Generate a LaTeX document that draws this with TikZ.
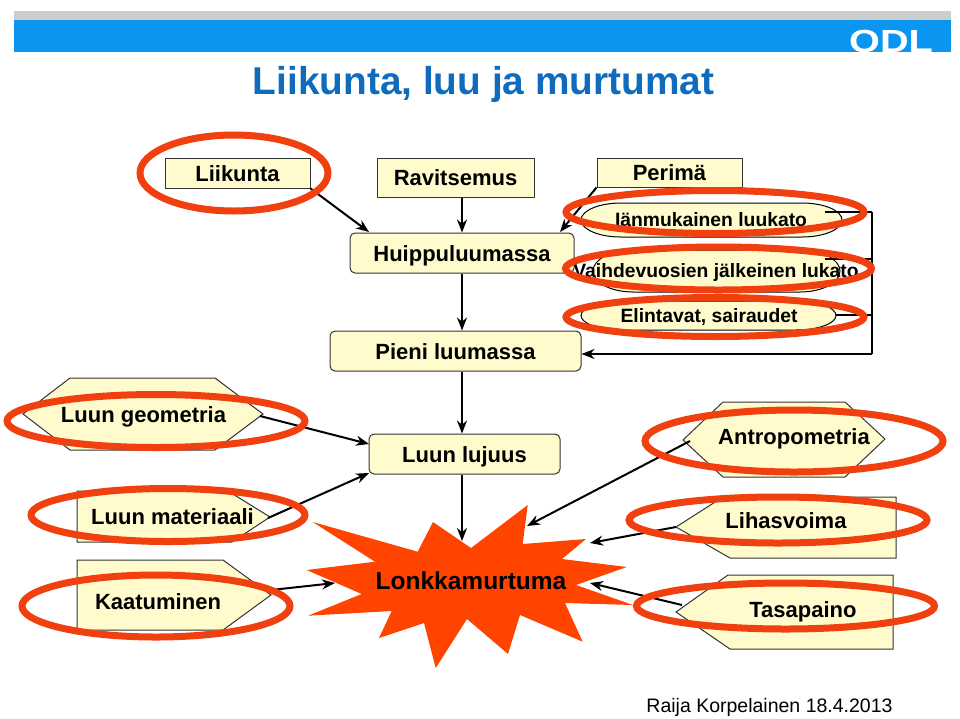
\documentclass[tikz,border=0pt]{standalone}
\usepackage{fontspec}
\setmainfont{Liberation Sans}
\usetikzlibrary{arrows.meta,shapes.geometric}
\definecolor{paleyellow}{HTML}{FFFBCC}
\definecolor{burstred}{HTML}{FF4400}
\definecolor{ringred}{HTML}{F0400F}
\definecolor{headblue}{HTML}{0A96F0}
\definecolor{headgrey}{HTML}{CCCCCC}
\definecolor{titleblue}{HTML}{0F6CBD}
\newcommand{\labelsize}[1]{\fontsize{#1}{#1}\selectfont\bfseries}
\begin{document}
\begin{tikzpicture}[x=1pt,y=-1pt]
        \tikzstyle{plainbox}=[draw=black!80,fill=paleyellow,line width=1pt,inner sep=0pt,text height=20pt,text depth=4pt,font=\labelsize{22}]
        \tikzstyle{roundbox}=[plainbox,rounded corners=5pt]
        \tikzstyle{capsule}=[draw=black,fill=paleyellow,line width=1pt]
        \tikzstyle{outline}=[draw=black!80,fill=paleyellow,line width=1pt,line join=miter]
        \tikzstyle{tag}=[inner sep=0pt,text height=20pt,text depth=4pt,font=\labelsize{22}]
        \tikzstyle{smalltag}=[inner sep=0pt,text height=16pt,text depth=4pt,font=\labelsize{19.3}]
        \tikzstyle{link}=[line width=2pt,-{Stealth[length=13pt,width=10pt]}]
        \tikzstyle{bar}=[line width=2pt,black]
        \tikzstyle{ring}=[draw=ringred,line width=7pt,ellipse,inner sep=0pt]
        \useasboundingbox (0,0) rectangle (960,718);
        % header
        \fill[headgrey] (14,11) rectangle (951,21);
        \fill[headblue] (14,20) rectangle (951,52);
        \begin{scope}
            \clip (14,20) rectangle (951,52);
            \node[white,inner sep=0pt,anchor=base,xscale=1.24,font=\labelsize{32}] (logo) at (891,52) {ODL};
        \end{scope}
        \node[inner sep=0pt,anchor=base,text=titleblue,font=\labelsize{38.8}] (title) at (483.5,94) {Liikunta, luu ja murtumat};
        % top boxes
        \node[plainbox,minimum width=145pt,minimum height=30pt] (liikunta) at (237.5,173) {Liikunta};
        \node[plainbox,minimum width=157pt,minimum height=39pt] (ravitsemus) at (455.5,177.5) {Ravitsemus};
        \node[plainbox,minimum width=145pt,minimum height=29pt] (perima) at (669.5,172.5) {Perimä};
        \node[roundbox,minimum width=224pt,minimum height=40pt] (huippu) at (462,253) {Huippuluumassa};
        \node[roundbox,minimum width=251pt,minimum height=40pt] (pieni) at (455.5,351) {Pieni luumassa};
        \node[roundbox,minimum width=191pt,minimum height=40pt] (lujuus) at (464.5,454) {Luun lujuus};
        % the three factors on the right
        \draw[capsule] (621,203) -- (802,203) arc[start angle=90,end angle=-90,x radius=40pt,y radius=17pt] -- (621,237) arc[start angle=270,end angle=90,x radius=40pt,y radius=17pt] -- cycle;
        \draw[capsule] (633,250) -- (800,250) arc[start angle=90,end angle=-90,x radius=40pt,y radius=21pt] -- (633,292) arc[start angle=270,end angle=90,x radius=40pt,y radius=21pt] -- cycle;
        \draw[capsule] (621,301) -- (796,301) arc[start angle=90,end angle=-90,x radius=40pt,y radius=14.5pt] -- (621,330) arc[start angle=270,end angle=90,x radius=40pt,y radius=14.5pt] -- cycle;
        \node[smalltag] (ikatext) at (711,220) {Iänmukainen luukato};
        \node[smalltag] (vaihdetext) at (716,271) {Vaihdevuosien jälkeinen lukato};
        \node[smalltag] (elintext) at (709,316) {Elintavat, sairaudet};
        \coordinate (barika) at (825,212);
        \coordinate (barvaihde) at (825,259);
        \coordinate (barelin) at (836,315);
        \coordinate (bartop) at (872,212);
        \coordinate (barbot) at (872,354);
        \draw[bar] (barika) -- (bartop);
        \draw[bar] (barvaihde) -- (barvaihde -| bartop);
        \draw[bar] (barelin) -- (barelin -| bartop);
        \draw[bar] (bartop) -- (barbot);
        \draw[link] (barbot) -- (barbot -| pieni.east);
        % left shapes
        \draw[outline] (23,414) -- (70,378) -- (215,378) -- (263,414) -- (215,450) -- (70,450) -- cycle;
        \draw[outline] (77,491) -- (228,491) -- (270,517) -- (232,542) -- (77,542) -- cycle;
        \draw[outline] (77,560) -- (223,560) -- (271,595) -- (223,630) -- (77,630) -- cycle;
        \node[tag] (geometria) at (143.5,414) {Luun geometria};
        \node[tag] (materiaali) at (172.5,516) {Luun materiaali};
        \node[tag] (kaatuminen) at (158,601) {Kaatuminen};
        \coordinate (geometriatip) at (260,416);
        \coordinate (materiaalitip) at (268,518);
        \coordinate (kaatuminentip) at (271,590);
        % right shapes
        \draw[outline] (683,440) -- (723,402) -- (845,402) -- (885,439) -- (845,477) -- (723,477) -- cycle;
        \draw[outline] (676,527) -- (723,497) -- (896,497) -- (896,558) -- (730,558) -- cycle;
        \draw[outline] (676,612) -- (728,575) -- (893,575) -- (893,649) -- (730,649) -- cycle;
        \node[tag] (antropo) at (794,436) {Antropometria};
        \node[tag] (lihas) at (786,520) {Lihasvoima};
        \node[tag] (tasapaino) at (803,609) {Tasapaino};
        \coordinate (antropotip) at (690,441);
        \coordinate (lihastip) at (676,527);
        \coordinate (tasapainotip) at (682,605);
        % the burst
        \fill[burstred] (527.7,505) -- (522.7,544) -- (586,539) -- (562,559) -- (626.7,567) -- (576,585) -- (633,605) -- (565,603) -- (582.7,641.7) -- (520,615) -- (508,654) -- (467,619) -- (435.7,668) -- (424,623) -- (379,638) -- (391.7,611) -- (308,615.7) -- (361.7,594) -- (306.7,570) -- (375,561.7) -- (312.7,522) -- (417.7,551.7) -- (433,522) -- (471,548) -- cycle;
        \node[tag,font=\labelsize{24.5}] (lonkka) at (471,581) {Lonkkamurtuma};
        \coordinate (burstleft) at (335,583);
        \coordinate (bursttop) at (462,541);
        \coordinate (burstne) at (527,526);
        \coordinate (burste) at (590,543);
        \coordinate (burstse) at (590,583);
        % arrows
        \draw[link] (liikunta.south east) -- (369,232);
        \draw[link] (ravitsemus.south -| huippu.north) -- (huippu.north);
        \draw[link] (perima.south west) -- (560,232);
        \draw[link] (huippu.south) -- (huippu.south |- pieni.north);
        \draw[link] (pieni.south -| huippu.south) -- (lujuus.north -| huippu.south);
        \draw[link] (lujuus.south -| huippu.south) -- (bursttop);
        \draw[link] (geometriatip) -- (369,444);
        \draw[link] (materiaalitip) -- (369,473);
        \draw[link] (kaatuminentip) -- (burstleft);
        \draw[link] (antropotip) -- (burstne);
        \draw[link] (lihastip) -- (burste);
        \draw[link] (tasapainotip) -- (burstse);
        % red rings
        \node[ring,minimum width=188pt,minimum height=76pt] (ringliikunta) at (234,173) {};
        \node[ring,minimum width=298pt,minimum height=43pt] (ringika) at (715,212) {};
        \node[ring,minimum width=306pt,minimum height=43pt] (ringvaihde) at (718.5,268.5) {};
        \node[ring,minimum width=298pt,minimum height=39pt] (ringelin) at (715,317) {};
        \node[ring,minimum width=298pt,minimum height=53pt] (ringgeo) at (156,421) {};
        \node[ring,minimum width=274pt,minimum height=53pt] (ringmat) at (168,515) {};
        \node[ring,minimum width=268pt,minimum height=62pt] (ringkaat) at (156,606) {};
        \node[ring,minimum width=298pt,minimum height=62pt] (ringantro) at (794,441) {};
        \node[ring,minimum width=298pt,minimum height=46pt] (ringlihas) at (778,520) {};
        \node[ring,minimum width=298pt,minimum height=46pt] (ringtasa) at (785.5,606) {};
        \node[inner sep=0pt,anchor=base,font=\fontsize{19.5}{20}\selectfont] (raija) at (769.5,712) {Raija Korpelainen 18.4.2013};
    \end{tikzpicture}
\end{document}
